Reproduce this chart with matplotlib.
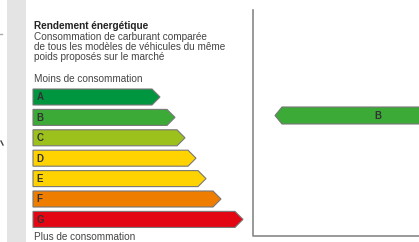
import matplotlib.pyplot as plt
from matplotlib.patches import Polygon, Rectangle

# energy classes, arrow lengths (px from left edge of bars), colours
classes = ["A", "B", "C", "D", "E", "F", "G"]
lengths = [127, 142, 152, 163, 173, 188, 210]
colors = ["#00963f", "#3caa36", "#9dc11c", "#ffd300", "#ffd300", "#ee7d00", "#e30613"]

vehicle_class = "B"
vehicle_color = "#3caa36"

title = "Rendement énergétique"
subtitle = ["Consommation de carburant comparée",
            "de tous les modèles de véhicules du même",
            "poids proposés sur le marché"]
top_label = "Moins de consommation"
bottom_label = "Plus de consommation"

W, H = 419, 242
fig = plt.figure(figsize=(W / 100, H / 100), dpi=100)
ax = fig.add_axes([0, 0, 1, 1])
ax.set_xlim(0, W)
ax.set_ylim(H, 0)
ax.axis("off")

font = "Liberation Sans"
fs = 7.2

# grey strip on the left
ax.add_patch(Rectangle((7, 0), 19, H, color="#e4e4e4", lw=0))
ax.plot([0, 2], [34, 34], color="#aaaaaa", lw=1)
ax.plot([1, 3], [141, 145], color="#444444", lw=1)

ax.text(34, 29, title, fontsize=fs, fontweight="bold", family=font, va="baseline", color="#222222")
for i, line in enumerate(subtitle):
    ax.text(34, 40.5 + i * 10, line, fontsize=fs, family=font, va="baseline", color="#444444")
ax.text(34, 82, top_label, fontsize=fs, family=font, va="baseline", color="#444444")
ax.text(34, 240, bottom_label, fontsize=fs, family=font, va="baseline", color="#444444")

x0 = 33
bh = 16
tip = 8
for i, (c, L, col) in enumerate(zip(classes, lengths, colors)):
    y = 89 + i * 20.4
    pts = [(x0, y), (x0 + L - tip, y), (x0 + L, y + bh / 2), (x0 + L - tip, y + bh), (x0, y + bh)]
    ax.add_patch(Polygon(pts, closed=True, facecolor=col, edgecolor="#777777", lw=0.8))
    ax.text(x0 + 3.5, y + bh / 2 + 0.5, c, fontsize=7, fontweight="bold", family=font,
            va="center", ha="left", color="#333333")

# right panel frame
ax.plot([253, 253, W], [10, 236, 236], color="#888888", lw=1.2)

# arrow pointing to the vehicle's class
vy = 107
pts = [(275, vy + 8.5), (282, vy), (W + 5, vy), (W + 5, vy + 17), (282, vy + 17)]
ax.add_patch(Polygon(pts, closed=True, facecolor=vehicle_color, edgecolor="#777777", lw=0.8))
ax.text(378, vy + 9, vehicle_class, fontsize=7, fontweight="bold", family=font,
        va="center", ha="center", color="#333333")

fig.savefig("out.png", dpi=100)
